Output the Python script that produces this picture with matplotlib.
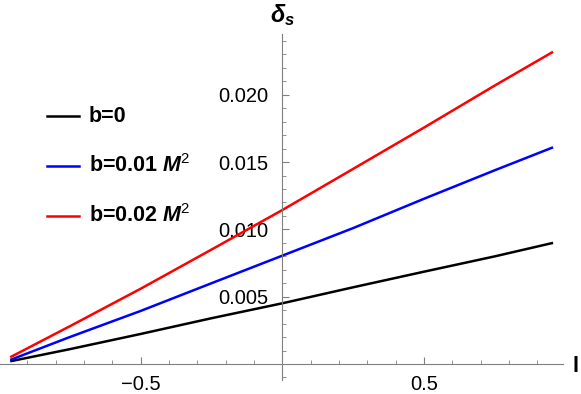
import numpy as np
import matplotlib.pyplot as plt
from matplotlib.lines import Line2D
from matplotlib.ticker import MultipleLocator

plt.rcParams["font.family"] = ["Liberation Sans", "DejaVu Sans"]
plt.rcParams["mathtext.fontset"] = "custom"
plt.rcParams["mathtext.rm"] = "Liberation Sans"
plt.rcParams["mathtext.it"] = "Liberation Sans:italic"
plt.rcParams["mathtext.bf"] = "Liberation Sans:bold"
plt.rcParams["mathtext.bfit"] = "Liberation Sans:bold:italic"

# ---- data ----
l_vals = [-0.96, -0.75, -0.5, -0.25, 0.0, 0.25, 0.5, 0.75, 0.955]
delta_b0 = [0.0002, 0.0011, 0.00223, 0.0034, 0.00451, 0.0057, 0.00686, 0.0080, 0.0090]
delta_b001 = [0.0003, 0.0020, 0.00394, 0.0060, 0.00805, 0.0101, 0.01228, 0.0144, 0.0161]
delta_b002 = [0.0005, 0.0028, 0.00559, 0.0085, 0.01144, 0.0145, 0.01757, 0.0207, 0.0232]

labels = ["b=0", r"b=0.01 $\mathbfit{M}^2$", r"b=0.02 $\mathbfit{M}^2$"]
colors = ["black", "#0000ff", "#ff0000"]
series = [delta_b0, delta_b001, delta_b002]

W, H = 581, 394
fig = plt.figure(figsize=(W / 100, H / 100), dpi=100)
# axes box in pixel terms: left 0, right 563, top 34, bottom 380
ax = fig.add_axes([0.0, (H - 380) / H, 563 / W, (380 - 34) / H])

for y, c in zip(series, colors):
    ax.plot(l_vals, y, color=c, lw=1.8, solid_capstyle="butt")

ax.set_xlim(-0.996, 0.99)
ax.set_ylim(-0.00119, 0.02452)

axis_gray = "#7f7f7f"
for side in ["top", "right"]:
    ax.spines[side].set_visible(False)
ax.spines["left"].set_position(("data", 0))
ax.spines["bottom"].set_position(("data", 0))
for side in ["left", "bottom"]:
    ax.spines[side].set_color(axis_gray)
    ax.spines[side].set_linewidth(0.8)

ax.xaxis.set_major_locator(MultipleLocator(0.5))
ax.xaxis.set_minor_locator(MultipleLocator(0.1))
ax.yaxis.set_major_locator(MultipleLocator(0.005))
ax.yaxis.set_minor_locator(MultipleLocator(0.001))
ax.set_xticks([-0.5, 0.5])
ax.set_xticklabels(["\u22120.5", "0.5"])
ax.set_yticks([0.005, 0.010, 0.015, 0.020])
ax.set_yticklabels(["0.005", "0.010", "0.015", "0.020"])

ax.tick_params(axis="x", which="both", direction="in", color=axis_gray, labelsize=14.5, pad=8)
ax.tick_params(axis="y", which="both", direction="in", color=axis_gray, labelsize=14.5, pad=10)
ax.tick_params(which="major", length=5, width=0.8)
ax.tick_params(which="minor", length=3, width=0.6)
ax.set_facecolor("none")

# axis labels
fig.text(283 / W, 1 - 15 / H, r"$\mathbfit{\delta_s}$", ha="center", va="center", fontsize=17)
fig.text(576 / W, 1 - 367 / H, "l", ha="center", va="center", fontsize=16, fontweight="bold")

# legend drawn by hand
rows_y = [116, 166, 216]
for lab, c, ry in zip(labels, colors, rows_y):
    fy = 1 - ry / H
    fig.add_artist(Line2D([47 / W, 79 / W], [fy, fy], color=c, lw=1.8))
    fig.text(89 / W, fy, lab, ha="left", va="center", fontsize=15.5, fontweight="bold")

fig.savefig("out.png", dpi=100)
